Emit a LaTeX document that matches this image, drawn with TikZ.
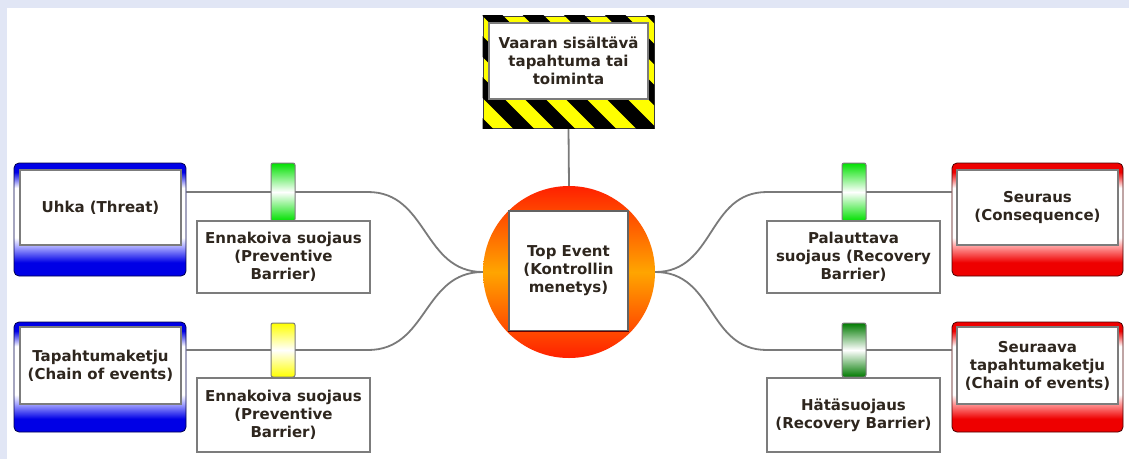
\documentclass[tikz,border=0pt]{standalone}
\usepackage{fontspec}
\setmainfont{DejaVu Sans}
\definecolor{framecol}{HTML}{E1E6F5}
\definecolor{boxblue}{HTML}{0000E6}
\definecolor{lightblue}{HTML}{A8A8FF}
\definecolor{boxred}{HTML}{EE0000}
\definecolor{lightred}{HTML}{FF9A9A}
\definecolor{linegray}{HTML}{7A7A7A}
\definecolor{bordergray}{HTML}{7C7C7C}
\definecolor{txtcol}{HTML}{2E261E}
\definecolor{barG}{HTML}{00E000}
\definecolor{barDG}{HTML}{007A00}
\definecolor{barY}{HTML}{FFFF00}
\definecolor{topred}{HTML}{FF2000}
\definecolor{toporange}{HTML}{FFA500}
\definecolor{hazY}{HTML}{FFFF00}
\pgfdeclareverticalshading{blueframe}{100bp}{color(0bp)=(boxblue); color(31bp)=(boxblue); color(38bp)=(lightblue); color(42bp)=(white); color(64bp)=(white); color(71bp)=(boxblue); color(100bp)=(boxblue)}
\pgfdeclareverticalshading{redframe}{100bp}{color(0bp)=(boxred); color(31bp)=(boxred); color(38bp)=(lightred); color(42bp)=(white); color(64bp)=(white); color(71bp)=(boxred); color(100bp)=(boxred)}
\pgfdeclarelayer{back}
\pgfdeclarelayer{lines}
\pgfsetlayers{back,lines,main}
\begin{document}
\begin{tikzpicture}[x=1pt,y=-1pt,
  txt/.style={font=\fontsize{15}{18}\selectfont\bfseries, text=txtcol, align=center},
  conn/.style={draw=linegray, line width=1.8pt},
  bluebox/.style={rounded corners=5pt, draw=black!70!blue, line width=0.8pt, inner sep=0pt, shade, shading=blueframe, minimum width=172pt},
  redbox/.style={rounded corners=5pt, draw=black!70!red, line width=0.8pt, inner sep=0pt, shade, shading=redframe, minimum width=171pt},
  innerbox/.style={txt, draw=bordergray, line width=1.2pt, fill=white, inner sep=0pt, minimum width=161pt},
  barrier/.style={rounded corners=2pt, draw=bordergray, line width=1pt, inner sep=0pt, minimum width=24pt, top color=#1, bottom color=#1, middle color=white},
  bartext/.style={txt, draw=bordergray, line width=1.4pt, fill=white, inner sep=0pt, minimum width=173pt},
]
\useasboundingbox (0,0) rectangle (1129,459);
\begin{pgfonlayer}{back}
  \fill[framecol] (0,0) rectangle (1129,459);
  \fill[white] (7,8) rectangle (1129,459);
\end{pgfonlayer}

% hazard box
\node[draw=black!75, line width=0.8pt, fill=hazY, inner sep=0pt, minimum width=171pt, minimum height=112pt] (hazard) at (568.5,72) {};
\begin{scope}
  \clip (hazard.south west) rectangle (hazard.north east);
  \foreach \i in {0,...,10} {
    \draw[black, line width=14.5pt] (313+41*\i,0) -- ++(140,140);
  }
\end{scope}
\node[txt, draw=bordergray, line width=1.2pt, fill=white, inner sep=0pt, minimum width=159pt, minimum height=76pt] (hazin) at (568.5,61) {Vaaran sisältävä\\tapahtuma tai\\toiminta};

% top event
\node[circle, minimum size=172pt, inner sep=0pt, top color=topred, bottom color=topred, middle color=toporange] (top) at (569,272) {};
\node[txt, draw=bordergray!80!black, line width=1.3pt, fill=white, inner sep=0pt, minimum width=119pt, minimum height=120pt] (topbox) at (568.5,271) {Top Event\\(Kontrollin\\menetys)};
\draw[line width=1.6pt, color=black!60!red] (topbox.south west) -- (topbox.south east);

% threats
\node[bluebox, minimum height=113pt] (uhka) at (100,219.5) {};
\node[innerbox, minimum height=75pt] (uhkain) at (100.5,207.5) {Uhka (Threat)};
\node[bluebox, minimum height=110pt] (tapa) at (100,377) {};
\node[innerbox, minimum height=77pt] (tapain) at (100.5,365.5) {Tapahtumaketju\\(Chain of events)};

% consequences
\node[redbox, minimum height=113pt] (seur) at (1037.5,219.5) {};
\node[innerbox, minimum height=75pt] (seurin) at (1037.5,207.5) {Seuraus\\(Consequence)};
\node[redbox, minimum height=110pt] (seuv) at (1037.5,377) {};
\node[innerbox, minimum height=77pt] (seuvin) at (1037.5,365.5) {Seuraava\\tapahtumaketju\\(Chain of events)};

% barriers
\node[barrier=barG, minimum height=58pt] (b1) at (283,192) {};
\node[bartext, minimum height=72pt] (t1) at (283.5,257) {Ennakoiva suojaus\\(Preventive\\Barrier)};
\node[barrier=barY, minimum height=54pt] (b2) at (283,350) {};
\node[bartext, minimum height=74pt] (t2) at (283.5,415) {Ennakoiva suojaus\\(Preventive\\Barrier)};
\node[barrier=barG, minimum height=58pt] (b3) at (854,192) {};
\node[bartext, minimum height=72pt] (t3) at (853.5,257) {Palauttava\\suojaus (Recovery\\Barrier)};
\node[barrier=barDG, minimum height=54pt] (b4) at (854,350) {};
\node[bartext, minimum height=74pt] (t4) at (853.5,415) {Hätäsuojaus\\(Recovery Barrier)};

% junctions
\coordinate (jL1) at (368,192);
\coordinate (jL2) at (368,350);
\coordinate (jR1) at (767,192);
\coordinate (jR2) at (767,350);

\begin{pgfonlayer}{lines}
  \draw[conn] (hazard.south) -- (top.north);
  \draw[conn] (uhka.east |- jL1) -- (jL1) .. controls +(60,0) and +(-60,0) .. (top.west);
  \draw[conn] (tapa.east |- jL2) -- (jL2) .. controls +(60,0) and +(-60,0) .. (top.west);
  \draw[conn] (top.east) .. controls +(60,0) and +(-60,0) .. (jR1) -- (seur.west |- jR1);
  \draw[conn] (top.east) .. controls +(60,0) and +(-60,0) .. (jR2) -- (seuv.west |- jR2);
\end{pgfonlayer}
\end{tikzpicture}
\end{document}
